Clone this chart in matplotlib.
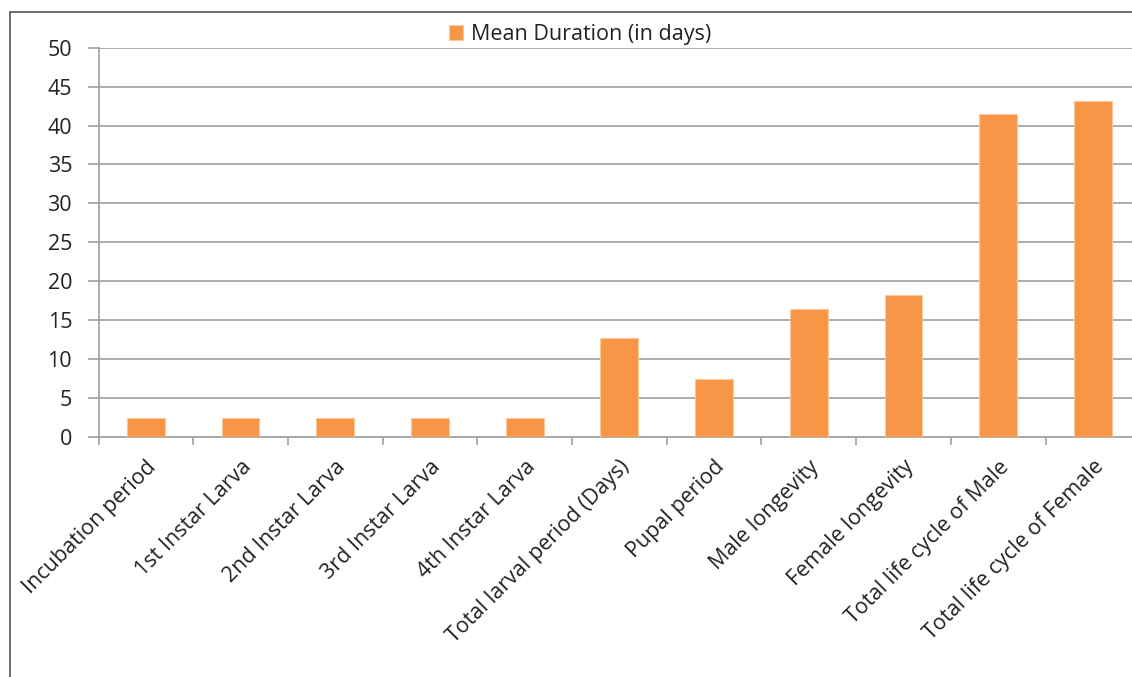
import matplotlib
matplotlib.use("Agg")
import matplotlib.pyplot as plt
from matplotlib.patches import Rectangle
import numpy as np

stages = ["Incubation period", "1st Instar Larva", "2nd Instar Larva",
          "3rd Instar Larva", "4th Instar Larva", "Total larval period (Days)",
          "Pupal period", "Male longevity", "Female longevity",
          "Total life cycle of Male", "Total life cycle of Female"]
mean_days = [2.5, 2.5, 2.5, 2.5, 2.5, 12.7, 7.4, 16.4, 18.3, 41.5, 43.2]
y_ticks = [0, 5, 10, 15, 20, 25, 30, 35, 40, 45, 50]
series_name = "Mean Duration (in days)"

plt.rcParams['font.family'] = ['Open Sans', 'DejaVu Sans']
bar_color = "#F79646"
grid_color = "#A6A6A6"
text_color = "#222222"
fs = 15.5

W, H = 1132, 677
fig = plt.figure(figsize=(W / 100, H / 100), dpi=100)

# outer chart frame (cropped on right and bottom in the original)
fig.add_artist(Rectangle((10 / W, -0.1), 1.2, (H - 12) / H + 0.1,
                         transform=fig.transFigure, fill=False,
                         edgecolor="#555555", linewidth=1.2))

ax = fig.add_axes([98.5 / W, (H - 437) / H, 1041.7 / W, (437 - 47.7) / H])
x = np.arange(len(stages))
ax.bar(x, mean_days, width=0.4, color=bar_color, edgecolor="#FBC89A",
       linewidth=0.8, zorder=3, label=series_name)

ax.set_xlim(-0.5, len(stages) - 0.5)
ax.set_ylim(0, 50)
ax.set_yticks(y_ticks)
ax.yaxis.grid(True, color=grid_color, linewidth=1.3, zorder=0)

for side in ["top", "right"]:
    ax.spines[side].set_visible(False)
for side in ["left", "bottom"]:
    ax.spines[side].set_color(grid_color)
    ax.spines[side].set_linewidth(1.3)

ax.tick_params(axis="y", length=8, width=1.3, color=grid_color,
               labelsize=fs, pad=11, labelcolor=text_color)
ax.set_xticks(x)
ax.set_xticklabels(stages, rotation=45, ha="right", rotation_mode="anchor",
                   fontsize=fs, color=text_color)
ax.tick_params(axis="x", which="major", length=0, pad=14)
ax.set_xticks(np.arange(len(stages) + 1) - 0.5, minor=True)
ax.tick_params(axis="x", which="minor", length=6, width=1.3, color=grid_color)

ax.legend(loc="center", bbox_to_anchor=(481.5 / 1041.7, 1.0 + 13 / 389.3),
          frameon=False, fontsize=fs, handlelength=0.65, handleheight=0.65,
          handletextpad=0.4, labelcolor=text_color, borderpad=0)

fig.savefig("out.png", dpi=100)
